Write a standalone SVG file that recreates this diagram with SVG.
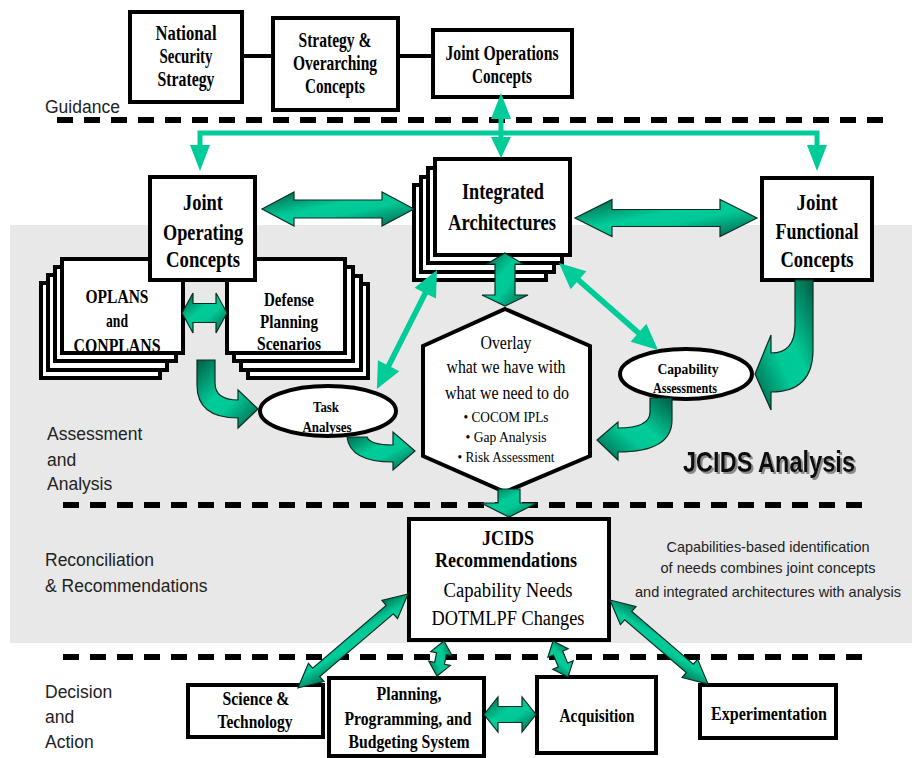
<svg xmlns="http://www.w3.org/2000/svg" width="912" height="758" viewBox="0 0 912 758">
<defs>
<linearGradient id="gA" x1="0" y1="0" x2="1" y2="1">
<stop offset="0" stop-color="#005C44"/><stop offset="0.42" stop-color="#00CC99"/><stop offset="0.6" stop-color="#00C896"/><stop offset="1" stop-color="#005C44"/>
</linearGradient>
<linearGradient id="gB" x1="1" y1="0" x2="0" y2="1">
<stop offset="0" stop-color="#005C44"/><stop offset="0.42" stop-color="#00CC99"/><stop offset="0.6" stop-color="#00C896"/><stop offset="1" stop-color="#005C44"/>
</linearGradient>
<filter id="shadow" x="-10%" y="-30%" width="120%" height="160%">
<feDropShadow dx="2" dy="2" stdDeviation="0.7" flood-color="#8a8a8a" flood-opacity="1"/>
</filter>
<style>
.box{fill:#fff;stroke:#000;stroke-width:4}
.sb{font-family:"Liberation Serif","Times New Roman",serif;font-weight:bold;text-anchor:middle;fill:#000}
.sr{font-family:"Liberation Serif","Times New Roman",serif;text-anchor:middle;fill:#000}
.lab{font-family:"Liberation Sans",Arial,sans-serif;font-size:17.5px;fill:#222}
.note{font-family:"Liberation Sans",Arial,sans-serif;font-size:14.5px;fill:#222;text-anchor:middle}
.ga{fill:url(#gA);stroke:#0b2e22;stroke-width:1.2}
.gb{fill:url(#gB);stroke:#0b2e22;stroke-width:1.2}
.thin{fill:#00CC99}
.dash{stroke:#000;stroke-width:6;stroke-dasharray:16 11;fill:none}
</style>
</defs>

<g id="background">
<rect x="10" y="225" width="902" height="418" fill="#E8E8E8"/>
<line class="dash" x1="57" y1="120" x2="893" y2="120"/>
<line class="dash" x1="63" y1="505" x2="870" y2="505"/>
<line class="dash" x1="63" y1="657" x2="870" y2="657"/>
</g>

<g id="labels">
<text class="lab" x="45" y="113">Guidance</text>
<text class="lab" x="47" y="440">Assessment</text>
<text class="lab" x="47" y="466">and</text>
<text class="lab" x="47" y="490">Analysis</text>
<text class="lab" x="45" y="566">Reconciliation</text>
<text class="lab" x="45" y="592">&amp; Recommendations</text>
<text class="lab" x="45" y="698">Decision</text>
<text class="lab" x="45" y="723">and</text>
<text class="lab" x="45" y="748">Action</text>
<text x="769" y="472" font-family="Liberation Sans,Arial,sans-serif" font-weight="bold" font-size="30" fill="#111" text-anchor="middle" textLength="172" lengthAdjust="spacingAndGlyphs" filter="url(#shadow)">JCIDS Analysis</text>
<text class="note" x="768" y="552" textLength="203" lengthAdjust="spacingAndGlyphs">Capabilities-based identification</text>
<text class="note" x="768" y="573" textLength="215" lengthAdjust="spacingAndGlyphs">of needs combines joint concepts</text>
<text class="note" x="768" y="597" textLength="266" lengthAdjust="spacingAndGlyphs">and integrated architectures with analysis</text>
</g>

<g id="nodes">
<g id="national-security-strategy">
<rect class="box" x="130" y="12" width="112" height="90"/>
<text class="sb" x="186" y="40" font-size="20" textLength="61" lengthAdjust="spacingAndGlyphs">National</text>
<text class="sb" x="186" y="63" font-size="20" textLength="53" lengthAdjust="spacingAndGlyphs">Security</text>
<text class="sb" x="186" y="86" font-size="20" textLength="57" lengthAdjust="spacingAndGlyphs">Strategy</text>
</g>
<g id="strategy-overarching">
<rect class="box" x="273" y="18" width="125" height="92"/>
<text class="sb" x="335" y="47" font-size="20" textLength="73" lengthAdjust="spacingAndGlyphs">Strategy &amp;</text>
<text class="sb" x="335" y="70" font-size="20" textLength="84" lengthAdjust="spacingAndGlyphs">Overarching</text>
<text class="sb" x="335" y="93" font-size="20" textLength="60" lengthAdjust="spacingAndGlyphs">Concepts</text>
</g>
<g id="joint-operations-concepts">
<rect class="box" x="433" y="30" width="139" height="67"/>
<text class="sb" x="502" y="60" font-size="20" textLength="113" lengthAdjust="spacingAndGlyphs">Joint Operations</text>
<text class="sb" x="502" y="83" font-size="20" textLength="60" lengthAdjust="spacingAndGlyphs">Concepts</text>
</g>

<g id="oplans-conplans">
<rect class="box" x="41" y="283" width="119" height="95"/>
<rect class="box" x="48" y="275" width="119" height="95"/>
<rect class="box" x="55" y="267" width="121" height="94"/>
<rect class="box" x="62" y="259" width="121" height="94"/>
<text class="sb" x="117" y="303" font-size="19" textLength="63" lengthAdjust="spacingAndGlyphs">OPLANS</text>
<text class="sb" x="117" y="327" font-size="19" textLength="22" lengthAdjust="spacingAndGlyphs">and</text>
<text class="sb" x="117" y="352" font-size="19" textLength="87" lengthAdjust="spacingAndGlyphs">CONPLANS</text>
</g>
<g id="defense-planning-scenarios">
<rect class="box" x="248" y="284" width="120" height="94"/>
<rect class="box" x="241" y="276" width="120" height="94"/>
<rect class="box" x="234" y="267" width="119" height="94"/>
<rect class="box" x="227" y="259" width="118" height="94"/>
<text class="sb" x="289" y="306" font-size="19" textLength="50" lengthAdjust="spacingAndGlyphs">Defense</text>
<text class="sb" x="289" y="328" font-size="19" textLength="58" lengthAdjust="spacingAndGlyphs">Planning</text>
<text class="sb" x="289" y="350" font-size="19" textLength="64" lengthAdjust="spacingAndGlyphs">Scenarios</text>
</g>
<g id="joint-operating-concepts">
<rect class="box" x="150" y="177" width="105" height="103"/>
<text class="sb" x="203" y="210" font-size="24" textLength="40" lengthAdjust="spacingAndGlyphs">Joint</text>
<text class="sb" x="203" y="240" font-size="24" textLength="80" lengthAdjust="spacingAndGlyphs">Operating</text>
<text class="sb" x="203" y="267" font-size="24" textLength="74" lengthAdjust="spacingAndGlyphs">Concepts</text>
</g>
<g id="integrated-architectures">
<rect class="box" x="414" y="185" width="132" height="95"/>
<rect class="box" x="421" y="177" width="133" height="95"/>
<rect class="box" x="428" y="168" width="134" height="95"/>
<rect class="box" x="435" y="159" width="135" height="96"/>
<text class="sb" x="503" y="199" font-size="24" textLength="82" lengthAdjust="spacingAndGlyphs">Integrated</text>
<text class="sb" x="502" y="230" font-size="24" textLength="108" lengthAdjust="spacingAndGlyphs">Architectures</text>
</g>
<g id="joint-functional-concepts">
<rect class="box" x="762" y="178" width="110" height="102"/>
<text class="sb" x="817" y="210" font-size="24" textLength="41" lengthAdjust="spacingAndGlyphs">Joint</text>
<text class="sb" x="817" y="239" font-size="24" textLength="83" lengthAdjust="spacingAndGlyphs">Functional</text>
<text class="sb" x="817" y="267" font-size="24" textLength="73" lengthAdjust="spacingAndGlyphs">Concepts</text>
</g>
<g id="task-analyses">
<ellipse class="box" cx="328" cy="411" rx="68" ry="25"/>
<text class="sb" x="326" y="412" font-size="15" textLength="26" lengthAdjust="spacingAndGlyphs">Task</text>
<text class="sb" x="327" y="432" font-size="15" textLength="49" lengthAdjust="spacingAndGlyphs">Analyses</text>
</g>
<g id="capability-assessments">
<ellipse class="box" cx="686" cy="374" rx="66" ry="25"/>
<text class="sb" x="688" y="374" font-size="15" textLength="61" lengthAdjust="spacingAndGlyphs">Capability</text>
<text class="sb" x="685" y="393" font-size="15" textLength="64" lengthAdjust="spacingAndGlyphs">Assessments</text>
</g>
<g id="overlay">
<polygon class="box" points="505,309 590,346 590,456 505,492 423,456 423,346"/>
<text class="sr" x="506" y="349" font-size="19" textLength="51" lengthAdjust="spacingAndGlyphs">Overlay</text>
<text class="sr" x="506" y="373" font-size="19" textLength="119" lengthAdjust="spacingAndGlyphs">what we have with</text>
<text class="sr" x="507" y="399" font-size="19" textLength="124" lengthAdjust="spacingAndGlyphs">what we need to do</text>
<text class="sr" x="506" y="422" font-size="15" textLength="85" lengthAdjust="spacingAndGlyphs">• COCOM IPLs</text>
<text class="sr" x="506" y="442" font-size="15" textLength="81" lengthAdjust="spacingAndGlyphs">• Gap Analysis</text>
<text class="sr" x="506" y="462" font-size="15" textLength="97" lengthAdjust="spacingAndGlyphs">• Risk Assessment</text>
</g>
<g id="jcids-recommendations">
<rect class="box" x="409" y="519" width="200" height="121"/>
<text class="sb" x="508" y="545" font-size="20" textLength="52" lengthAdjust="spacingAndGlyphs">JCIDS</text>
<text class="sb" x="506" y="567" font-size="20" textLength="142" lengthAdjust="spacingAndGlyphs">Recommendations</text>
<text class="sr" x="508" y="597" font-size="20" textLength="129" lengthAdjust="spacingAndGlyphs">Capability Needs</text>
<text class="sr" x="508" y="625" font-size="20" textLength="153" lengthAdjust="spacingAndGlyphs">DOTMLPF Changes</text>
</g>
<g id="science-technology">
<rect class="box" x="188" y="685" width="135" height="52"/>
<text class="sb" x="256" y="705" font-size="18" textLength="67" lengthAdjust="spacingAndGlyphs">Science &amp;</text>
<text class="sb" x="255" y="728" font-size="18" textLength="75" lengthAdjust="spacingAndGlyphs">Technology</text>
</g>
<g id="ppbs">
<rect class="box" x="329" y="678" width="155" height="78"/>
<text class="sb" x="409" y="700" font-size="18" textLength="65" lengthAdjust="spacingAndGlyphs">Planning,</text>
<text class="sb" x="408" y="725" font-size="18" textLength="127" lengthAdjust="spacingAndGlyphs">Programming, and</text>
<text class="sb" x="409" y="748" font-size="18" textLength="121" lengthAdjust="spacingAndGlyphs">Budgeting System</text>
</g>
<g id="acquisition">
<rect class="box" x="537" y="677" width="119" height="76"/>
<text class="sb" x="597" y="722" font-size="18" textLength="75" lengthAdjust="spacingAndGlyphs">Acquisition</text>
</g>
<g id="experimentation">
<rect class="box" x="700" y="685" width="136" height="53"/>
<text class="sb" x="769" y="720" font-size="18" textLength="116" lengthAdjust="spacingAndGlyphs">Experimentation</text>
</g>
</g>

<g id="connectors">
<line x1="242" y1="56" x2="273" y2="56" stroke="#000" stroke-width="4"/>
<line x1="398" y1="56" x2="433" y2="56" stroke="#000" stroke-width="4"/>
<polyline points="200,147 200,133 817,133 817,147" fill="none" stroke="#00CC99" stroke-width="5"/>
<polygon class="thin" points="190,145 210,145 200,171"/>
<polygon class="thin" points="807,145 827,145 817,171"/>
<line x1="501" y1="117" x2="501" y2="139" stroke="#00CC99" stroke-width="5"/>
<polygon class="thin" points="491,119 511,119 501,93"/>
<polygon class="thin" points="491,137 511,137 501,158"/>
<path class="thin" transform="translate(437,270) rotate(116.8)" d="M0,0 L26,-12 L26,-2.8 L107.3,-2.8 L107.3,-12 L133.3,0 L107.3,12 L107.3,2.8 L26,2.8 L26,12 Z"/>
<path class="thin" transform="translate(559,263) rotate(41.3)" d="M0,0 L26,-12 L26,-2.8 L105.8,-2.8 L105.8,-12 L131.8,0 L105.8,12 L105.8,2.8 L26,2.8 L26,12 Z"/>
<path class="ga" d="M262,209 L294,192 L294,200 L382,200 L382,192 L414,209 L382,226 L382,218 L294,218 L294,226 Z"/>
<path class="ga" d="M575,218 L612,199.5 L612,209.5 L720,209.5 L720,199.5 L757,218 L720,236.5 L720,226.5 L612,226.5 L612,236.5 Z"/>
<path class="ga" d="M505,253 L523,264 L515,264 L515,295 L528,295 L505,306 L482,295 L495,295 L495,264 L487,264 Z"/>
<path class="ga" d="M182,313 L193,293 L193,303.5 L216,303.5 L216,293 L227,313 L216,333 L216,322.5 L193,322.5 L193,333 Z"/>
<path class="ga" d="M197,360 H215 V383 Q215,400 238,400 V390 L258,409 L238,428 V418 Q197,418 197,385 Z"/>
<path class="ga" d="M347,437 H367 Q370,445 393,445 V432 L415,451 L393,470 V462 Q350,462 347,437 Z"/>
<path class="gb" d="M795,280 H813 V350 Q813,392 771,392 V410 L755,374 L771,335 V353 Q795,353 795,325 Z"/>
<path class="gb" d="M650,398 H672 V420 Q672,452 618,452 V460 L597,440 L618,422 V428 Q650,428 650,412 Z"/>
<path class="ga" d="M498,489 H520 V503 H537 L509,517 L481,503 H498 Z"/>
<path class="gb" transform="translate(408,594) rotate(139.5)" d="M0,0 L24,-12 L24,-5.5 L120.7,-5.5 L120.7,-12 L144.7,0 L120.7,12 L120.7,5.5 L24,5.5 L24,12 Z"/>
<path class="ga" transform="translate(610,600) rotate(40.6)" d="M0,0 L24,-12 L24,-5.5 L105.1,-5.5 L105.1,-12 L129.1,0 L105.1,12 L105.1,5.5 L24,5.5 L24,12 Z"/>
<path class="ga" transform="translate(444,641) rotate(101.3)" d="M0,0 L13,-11 L13,-5 L22.7,-5 L22.7,-11 L35.7,0 L22.7,11 L22.7,5 L13,5 L13,11 Z"/>
<path class="ga" transform="translate(553,641) rotate(67.4)" d="M0,0 L13,-11 L13,-5 L26,-5 L26,-11 L39,0 L26,11 L26,5 L13,5 L13,11 Z"/>
<path class="ga" d="M484,714.5 L498,697 L498,706.5 L522,706.5 L522,697 L536,714.5 L522,732 L522,722.5 L498,722.5 L498,732 Z"/>
</g>
</svg>
